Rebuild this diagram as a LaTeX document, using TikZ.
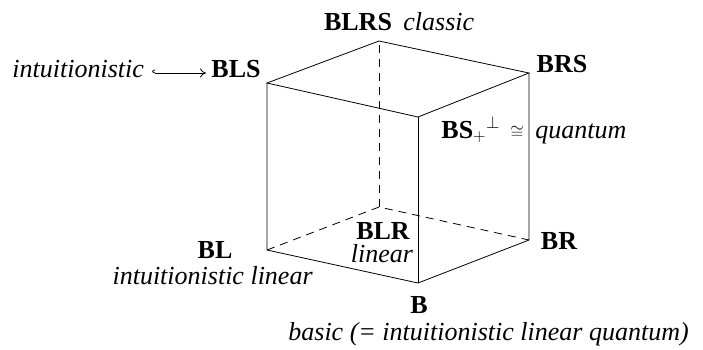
\documentclass[tikz,border=0pt]{standalone}
\usepackage{fontspec}
\setmainfont{Liberation Serif}
\usetikzlibrary{arrows.meta}
\begin{document}
\begin{tikzpicture}[x=1pt,y=-1pt,line width=0.8pt,
  every node/.style={inner sep=0pt,font=\fontsize{26}{30}\selectfont},
  logic/.style={font=\fontsize{26}{30}\selectfont\bfseries},
  reading/.style={font=\fontsize{26}{30}\selectfont\itshape},
  hidden/.style={dash pattern=on 8pt off 6pt}]
\useasboundingbox (0,0) rectangle (703,349);
% corners of the cube
\coordinate (B) at (418,283);
\coordinate (BL) at (267,250);
\coordinate (BR) at (529,240);
\coordinate (BLR) at (379,207);
\coordinate (BS) at (418,117);
\coordinate (BLS) at (267,83);
\coordinate (BRS) at (529,73);
\coordinate (BLRS) at (379,41);
\draw (BLS) -- (BLRS) -- (BRS) -- (BS) -- cycle;
\draw (BLS) -- (BL) -- (B) -- (BR) -- (BRS);
\draw (BS) -- (B);
\draw[hidden] (BL) -- (BLR) -- (BR);
\draw[hidden] (BLR) -- (BLRS);
% labels
\node[logic,anchor=base] (lBLRS) at (358,30) {BLRS};
\node[reading,anchor=base west] (rBLRS) at (403,30) {classic};
\node[logic,anchor=base] (lBLS) at (236,77) {BLS};
\node[reading,anchor=base west] (rBLS) at (12,77) {intuitionistic};
\draw[{Hooks[right,length=3pt,width=7pt]}-{To[length=6pt,width=9pt]}] ([xshift=8pt,yshift=4pt]rBLS.base east) -- ([xshift=-5pt,yshift=4pt]lBLS.base west);
\node[logic,anchor=base] (lBRS) at (562,72) {BRS};
\node[logic,anchor=base west] (lBS) at (441,138) {BS$_+{}^{\perp}$};
\node[anchor=base] (iso) at (517,138) {$\scriptstyle\cong$};
\node[reading,anchor=base west] (rBS) at (535,138) {quantum};
\node[logic,anchor=base] (lBL) at (215,258) {BL};
\node[reading,anchor=base east] (rBL) at (313,284) {intuitionistic linear};
\node[logic,anchor=base] (lBLR) at (383,239) {BLR};
\node[reading,anchor=base] (rBLR) at (382,262) {linear};
\node[logic,anchor=base] (lBR) at (559,249) {BR};
\node[logic,anchor=base] (lB) at (419,313) {B};
\node[reading,anchor=base west] (rB) at (288,340) {basic (= intuitionistic linear quantum)};
\end{tikzpicture}
\end{document}
